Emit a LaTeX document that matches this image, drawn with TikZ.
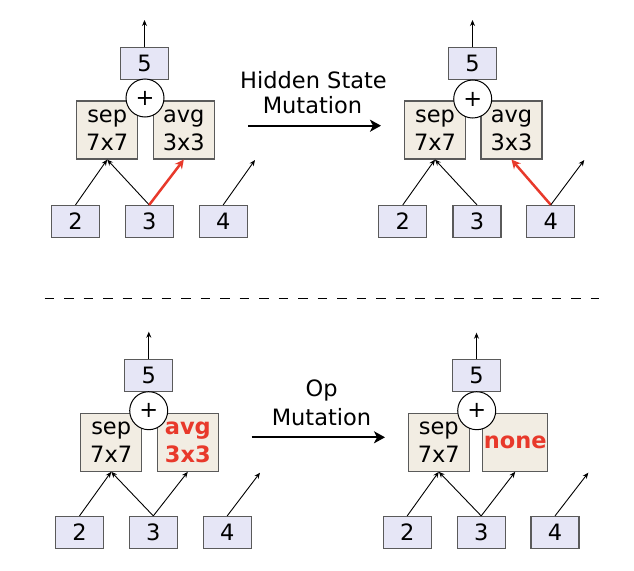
\documentclass[tikz,border=0pt]{standalone}
\usepackage{fontspec}
\setmainfont{DejaVu Sans}
\usetikzlibrary{arrows.meta}
\definecolor{lav}{HTML}{E6E6F6}
\definecolor{beige}{HTML}{F2EDE3}
\definecolor{bord}{HTML}{5A5A5A}
\definecolor{mred}{HTML}{E8392B}
\tikzset{
  every node/.style={font=\fontsize{22.5}{28}\selectfont},
  numbox/.style={draw=bord, line width=1.2pt, fill=lav, minimum width=48pt, minimum height=32pt, inner sep=0pt},
  opbox/.style={draw=bord, line width=1.2pt, fill=beige, minimum width=61pt, minimum height=58pt, inner sep=0pt, align=center},
  addnode/.style={circle, draw=black, fill=white, line width=1pt, minimum size=38pt, inner sep=0pt},
  conn/.style={line width=0.9pt, -{Stealth[length=6pt,width=5pt]}},
  redconn/.style={draw=mred, line width=2.5pt, -{Stealth[length=9pt,width=9pt]}},
  mutarrow/.style={line width=2pt, -{Stealth[length=11pt,width=12pt,inset=3pt]}},
  lbl/.style={anchor=base, inner sep=0pt},
  redtxt/.style={text=mred, font=\fontsize{22.5}{28}\selectfont\bfseries},
}
\begin{document}
\begin{tikzpicture}[x=1pt,y=-1pt]
\useasboundingbox (0,0) rectangle (634,570);

% ---------- top-left panel ----------
\node[numbox] (a5) at (144.5,63.7) {5};
\node[opbox] (asep) at (107.2,130) {sep\\7x7};
\node[opbox] (aavg) at (183.8,130) {avg\\3x3};
\node[addnode] (aadd) at (145,98) {+};
\node[numbox] (a2) at (75.5,221.5) {2};
\node[numbox] (a3) at (149.2,221.5) {3};
\node[numbox] (a4) at (223.2,221.5) {4};
\coordinate (aout) at (144.5,20);
\coordinate (a4out) at (255,160);
\draw[conn] (a5.north) -- (aout);
\draw[conn] (a2.north) -- (asep.south);
\draw[conn] (a3.north) -- (asep.south);
\draw[redconn] (a3.north) -- (aavg.south);
\draw[conn] (a4.north) -- (a4out);

% ---------- top-right panel ----------
\node[numbox] (b5) at (472.5,63.7) {5};
\node[opbox] (bsep) at (435,130) {sep\\7x7};
\node[opbox] (bavg) at (511.5,130) {avg\\3x3};
\node[addnode] (badd) at (472.7,99) {+};
\node[numbox] (b2) at (402.8,221.5) {2};
\node[numbox] (b3) at (477,221.5) {3};
\node[numbox] (b4) at (550.8,221.5) {4};
\coordinate (bout) at (472.5,20);
\coordinate (b4out) at (584.3,160);
\draw[conn] (b5.north) -- (bout);
\draw[conn] (b2.north) -- (bsep.south);
\draw[conn] (b3.north) -- (bsep.south);
\draw[redconn] (b4.north) -- (bavg.south);
\draw[conn] (b4.north) -- (b4out);

% ---------- top mutation label ----------
\node[lbl] (hs1) at (313.5,88) {Hidden State};
\node[lbl] (hs2) at (312.5,113) {Mutation};
\coordinate (hsA) at (248,125.7);
\coordinate (hsB) at (381,125.7);
\draw[mutarrow] (hsA) -- (hsB);

% ---------- separator ----------
\draw[line width=1pt, dash pattern=on 9.5pt off 10pt] (44.6,298) -- (599,298);

% ---------- bottom-left panel ----------
\node[numbox] (c5) at (148.8,375.8) {5};
\node[opbox] (csep) at (111.2,442.2) {sep\\7x7};
\node[opbox, redtxt] (cavg) at (187.8,442.2) {avg\\3x3};
\node[addnode] (cadd) at (148.7,410.7) {+};
\node[numbox] (c2) at (79.5,532.5) {2};
\node[numbox] (c3) at (153.3,532.5) {3};
\node[numbox] (c4) at (227.2,532.5) {4};
\coordinate (cout) at (148.8,331.7);
\coordinate (c4out) at (260,472.7);
\draw[conn] (c5.north) -- (cout);
\draw[conn] (c2.north) -- (csep.south);
\draw[conn] (c3.north) -- (csep.south);
\draw[conn] (c3.north) -- (cavg.south);
\draw[conn] (c4.north) -- (c4out);

% ---------- bottom-right panel ----------
\node[numbox] (d5) at (476.5,375.8) {5};
\node[opbox] (dsep) at (438.8,442.2) {sep\\7x7};
\node[opbox, redtxt, minimum width=65pt] (dnone) at (515.2,442.2) {none};
\node[addnode] (dadd) at (476.7,410.7) {+};
\node[numbox] (d2) at (407.2,532.5) {2};
\node[numbox] (d3) at (481.2,532.5) {3};
\node[numbox] (d4) at (555,532.5) {4};
\coordinate (dout) at (476.5,332.7);
\coordinate (d4out) at (588.3,472.7);
\draw[conn] (d5.north) -- (dout);
\draw[conn] (d2.north) -- (dsep.south);
\draw[conn] (d3.north) -- (dsep.south);
\draw[conn] (d3.north) -- (dnone.south);
\draw[conn] (d4.north) -- (d4out);

% ---------- bottom mutation label ----------
\node[lbl] (op1) at (321.7,396.7) {Op};
\node[lbl] (op2) at (321.5,425) {Mutation};
\coordinate (opA) at (251.7,437.3);
\coordinate (opB) at (385,437.3);
\draw[mutarrow] (opA) -- (opB);
\end{tikzpicture}
\end{document}
